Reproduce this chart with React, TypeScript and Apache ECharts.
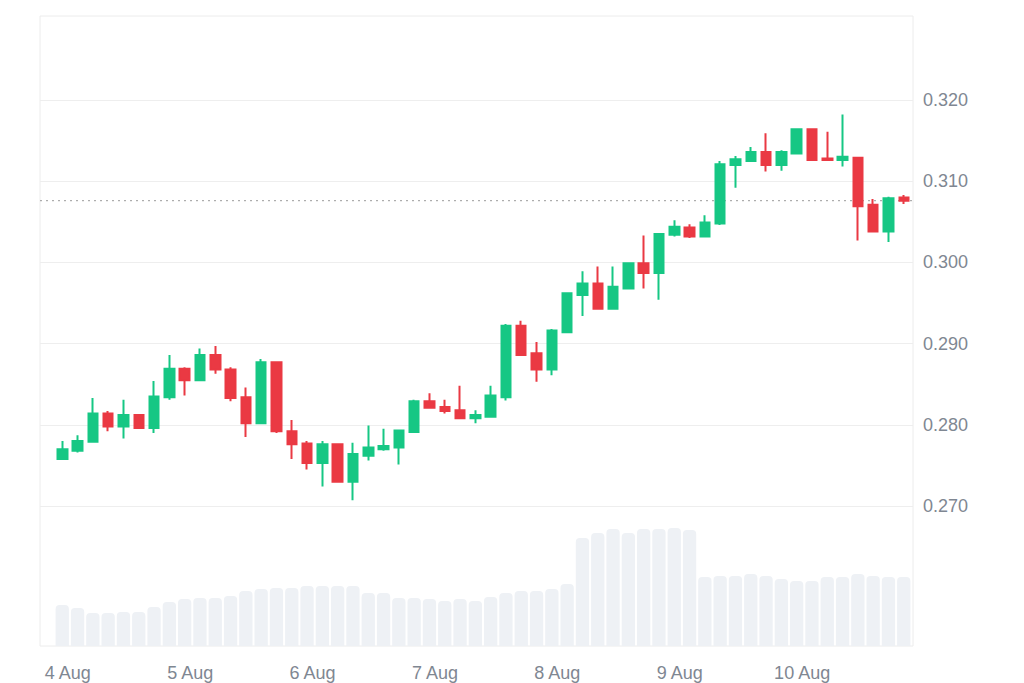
import React, { useEffect, useRef } from "react";
import * as echarts from "echarts";

// Time axis: 7 days x 8 three-hour candles
const days = ["4 Aug", "5 Aug", "6 Aug", "7 Aug", "8 Aug", "9 Aug", "10 Aug"];
const hours = ["00:00", "03:00", "06:00", "09:00", "12:00", "15:00", "18:00", "21:00"];

// Price ticks
const priceMin = 0.27;
const priceMax = 0.32;
const priceStep = 0.01;

const open = [
  0.2758, 0.2768, 0.2779, 0.2814, 0.2798, 0.2812, 0.2796, 0.2834, 0.2869, 0.2855,
  0.2886, 0.2868, 0.2834, 0.2802, 0.2877, 0.2792, 0.2777, 0.2753, 0.2776, 0.2730,
  0.2762, 0.2770, 0.2772, 0.2791, 0.2829, 0.2822, 0.2818, 0.2808, 0.2810, 0.2834,
  0.2922, 0.2888, 0.2868, 0.2914, 0.2960, 0.2974, 0.2943, 0.2968, 0.2999, 0.2987,
  0.3034, 0.3043, 0.3032, 0.3048, 0.3120, 0.3125, 0.3136, 0.3120, 0.3134, 0.3164,
  0.3128, 0.3126, 0.3129, 0.3071, 0.3038, 0.3080,
];
const close = [
  0.2770, 0.2780, 0.2814, 0.2798, 0.2812, 0.2796, 0.2835, 0.2869, 0.2855, 0.2886,
  0.2868, 0.2833, 0.2802, 0.2877, 0.2792, 0.2776, 0.2753, 0.2776, 0.2730, 0.2764,
  0.2772, 0.2774, 0.2793, 0.2829, 0.2821, 0.2817, 0.2808, 0.2812, 0.2836, 0.2922,
  0.2886, 0.2868, 0.2916, 0.2962, 0.2974, 0.2943, 0.2970, 0.2999, 0.2987, 0.3035,
  0.3044, 0.3032, 0.3049, 0.3121, 0.3127, 0.3136, 0.3120, 0.3136, 0.3164, 0.3126,
  0.3126, 0.3130, 0.3069, 0.3038, 0.3079, 0.3076,
];
const low = [
  0.2757, 0.2766, 0.2778, 0.2792, 0.2783, 0.2795, 0.2790, 0.2831, 0.2836, 0.2854,
  0.2863, 0.2829, 0.2785, 0.2801, 0.2790, 0.2758, 0.2745, 0.2724, 0.2729, 0.2707,
  0.2756, 0.2768, 0.2751, 0.2790, 0.2820, 0.2814, 0.2807, 0.2802, 0.2809, 0.2830,
  0.2885, 0.2853, 0.2861, 0.2913, 0.2934, 0.2942, 0.2942, 0.2967, 0.2968, 0.2954,
  0.3032, 0.3030, 0.3031, 0.3046, 0.3092, 0.3124, 0.3112, 0.3113, 0.3133, 0.3125,
  0.3125, 0.3118, 0.3027, 0.3037, 0.3025, 0.3072,
];
const high = [
  0.2780, 0.2787, 0.2833, 0.2817, 0.2831, 0.2813, 0.2854, 0.2886, 0.2871, 0.2894,
  0.2897, 0.2871, 0.2846, 0.2881, 0.2878, 0.2806, 0.2780, 0.2780, 0.2777, 0.2778,
  0.2799, 0.2795, 0.2794, 0.2831, 0.2839, 0.2831, 0.2848, 0.2818, 0.2848, 0.2924,
  0.2928, 0.2902, 0.2918, 0.2963, 0.2989, 0.2995, 0.2995, 0.3000, 0.3033, 0.3036,
  0.3052, 0.3047, 0.3058, 0.3125, 0.3131, 0.3142, 0.3159, 0.3138, 0.3165, 0.3165,
  0.3161, 0.3182, 0.3130, 0.3078, 0.3081, 0.3083,
];
// Volume (millions)
const volume = [
  41, 38, 33, 33, 34, 34, 39, 44, 47, 48,
  48, 50, 55, 57, 58, 58, 60, 60, 60, 60,
  53, 53, 48, 48, 47, 45, 47, 45, 49, 53,
  55, 55, 57, 62, 108, 113, 117, 113, 117, 117,
  118, 116, 69, 70, 70, 72, 70, 67, 65, 65,
  69, 69, 72, 70, 69, 69,
];
const volumeMax = 130;

const UP = "#16c784";
const DOWN = "#ea3943";
const LABEL = "#7f8792";
const FONT = "'Liberation Sans', Arial, Helvetica, sans-serif";

export default function App() {
  const ref = useRef<HTMLDivElement>(null);

  useEffect(() => {
    if (!ref.current) return;
    const chart = echarts.init(ref.current, null, { renderer: "svg" });
    const categories = days.flatMap((d) => hours.map((h) => `${d} ${h}`));
    const ohlc = open.map((o, i) => [o, close[i], low[i], high[i]]);
    const last = close[close.length - 1];

    chart.setOption({
      animation: false,
      backgroundColor: "#ffffff",
      grid: [
        { left: 40, top: 16, width: 873, height: 630, show: true, borderColor: "#ececec", borderWidth: 1, backgroundColor: "transparent" },
        { left: 40, top: 100, width: 873, height: 406 },
        { left: 54.6, top: 100, width: 856.8, height: 406 },
        { left: 54.6, top: 516, width: 856.8, height: 130 },
      ],
      xAxis: [
        { gridIndex: 0, type: "value", show: false, min: 0, max: 1 },
        { gridIndex: 1, type: "value", show: false, min: 0, max: 1 },
        { gridIndex: 2, type: "category", data: categories, boundaryGap: true, show: false },
        {
          gridIndex: 3,
          type: "category",
          data: categories,
          boundaryGap: true,
          axisLine: { show: false },
          axisTick: { show: false },
          splitLine: { show: false },
          axisLabel: {
            interval: 7,
            formatter: (v: string) => v.split(" ").slice(0, 2).join(" "),
            margin: 18,
            fontSize: 18,
            color: LABEL,
            fontFamily: FONT,
            padding: [0, 0, 0, 11],
          },
        },
      ],
      yAxis: [
        { gridIndex: 0, type: "value", show: false, min: 0, max: 1, splitLine: { show: false } },
        {
          gridIndex: 1,
          type: "value",
          position: "right",
          min: priceMin,
          max: priceMax,
          interval: priceStep,
          axisLine: { show: false },
          axisTick: { show: false },
          axisLabel: {
            formatter: (v: number) => v.toFixed(3),
            margin: 10,
            fontSize: 18,
            color: LABEL,
            fontFamily: FONT,
          },
          splitLine: { lineStyle: { color: "#eeeeee", width: 1 } },
        },
        { gridIndex: 2, type: "value", min: priceMin, max: priceMax, show: false, splitLine: { show: false } },
        { gridIndex: 3, type: "value", min: 0, max: volumeMax, show: false, splitLine: { show: false } },
      ],
      series: [
        {
          // current price dotted line across the full plot width
          type: "line",
          xAxisIndex: 1,
          yAxisIndex: 1,
          data: [
            [0, last],
            [1, last],
          ],
          symbol: "none",
          silent: true,
          lineStyle: { type: [2, 4], color: "#9a9a9a", width: 1 },
          z: 1,
        },
        {
          type: "bar",
          xAxisIndex: 3,
          yAxisIndex: 3,
          data: volume,
          barWidth: 13.3,
          itemStyle: { color: "#eef1f5", borderRadius: [4, 4, 0, 0] },
        },
        {
          type: "candlestick",
          xAxisIndex: 2,
          yAxisIndex: 2,
          data: ohlc,
          barWidth: 10,
          z: 3,
          itemStyle: {
            color: UP,
            color0: DOWN,
            borderColor: UP,
            borderColor0: DOWN,
            borderWidth: 2,
          },
        },
      ],
    });

    return () => chart.dispose();
  }, []);

  return (
    <div
      ref={ref}
      style={{ position: "fixed", left: 0, top: 0, width: 1024, height: 683, background: "#fff" }}
    />
  );
}
